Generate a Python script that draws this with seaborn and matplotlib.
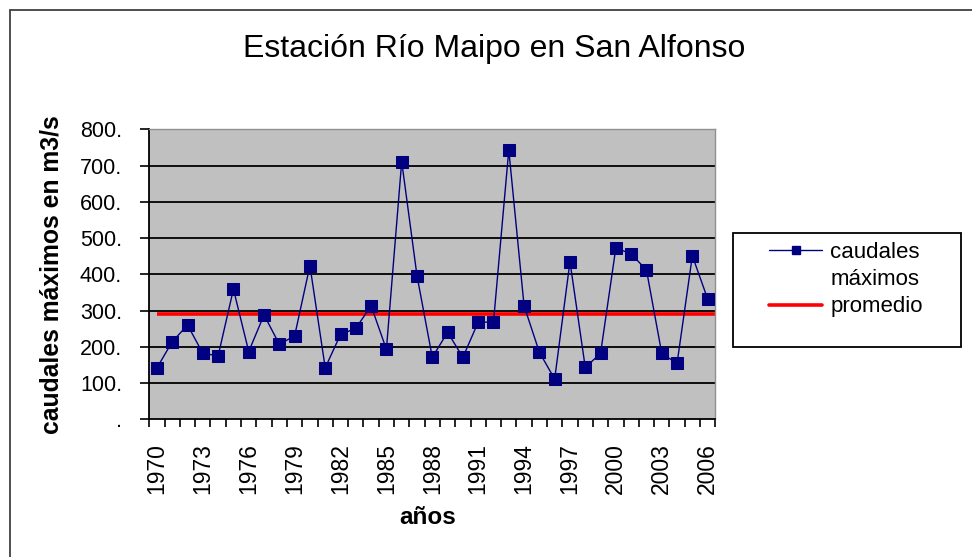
import numpy as np
import matplotlib
matplotlib.use("Agg")
import matplotlib.pyplot as plt
from matplotlib.lines import Line2D
from matplotlib.patches import Rectangle
from matplotlib.ticker import FixedLocator, FuncFormatter
import seaborn as sns

# Caudales máximos anuales, Río Maipo en San Alfonso (m3/s)
years = list(range(1970, 2007))
caudales = [142, 214, 260, 182, 175, 359, 187, 288, 207, 230,
            424, 142, 234, 251, 313, 193, 711, 396, 171, 240,
            171, 268, 268, 743, 313, 185, 111, 435, 143, 182,
            473, 456, 412, 182, 154, 451, 332]
promedio = 290
label_years = years[::3]

sns.set_theme(style="white")
plt.rcParams['font.family'] = ['Liberation Sans', 'DejaVu Sans']
plt.rcParams['text.color'] = 'black'
plt.rcParams['axes.labelcolor'] = 'black'
plt.rcParams['xtick.color'] = 'black'
plt.rcParams['ytick.color'] = 'black'

fig = plt.figure(figsize=(9.72, 5.57), dpi=100)
ax = fig.add_axes([0.1536, 0.2472, 0.5823, 0.5207])
ax.set_facecolor('#C0C0C0')

# horizontal grid lines in black, as in Excel
for v in range(100, 800, 100):
    ax.axhline(v, color='black', lw=1.3, zorder=1)

sns.lineplot(x=years, y=caudales, ax=ax, color='#000080', lw=1.0,
             marker='s', markersize=8.5, markeredgecolor='#000080', zorder=3)
ax.hlines(promedio, years[0], years[-1] + 0.5, color='#FF0000', lw=2.6, zorder=2)

ax.set_xlim(years[0] - 0.5, years[-1] + 0.5)
ax.set_ylim(0, 800)

ax.yaxis.set_major_locator(FixedLocator(range(0, 900, 100)))
ax.yaxis.set_major_formatter(FuncFormatter(lambda v, p: '.' if v == 0 else f'{int(v)}.'))
ax.tick_params(axis='y', which='major', direction='out', length=6.5, width=1.2,
               color='black', labelsize=15.5, pad=13, left=True)

ax.xaxis.set_minor_locator(FixedLocator(np.arange(years[0] - 0.5, years[-1] + 1, 1)))
ax.set_xticks(label_years)
ax.set_xticklabels([str(y) for y in label_years], rotation=90)
ax.tick_params(axis='x', which='major', length=0, labelsize=16.5, pad=17, bottom=True)
ax.tick_params(axis='x', which='minor', direction='out', length=6, width=1.2,
               color='black', bottom=True)

for side in ['left', 'bottom']:
    ax.spines[side].set_color('black')
    ax.spines[side].set_linewidth(1.3)
for side in ['top', 'right']:
    ax.spines[side].set_color('#909090')
    ax.spines[side].set_linewidth(1.0)

ax.set_ylabel('caudales máximos en m3/s', fontsize=17.8, fontweight='bold')
ax.set_xlabel('años', fontsize=17.5, fontweight='bold')
ax.yaxis.set_label_coords(-0.152, 0.5)
ax.xaxis.set_label_coords(0.492, -0.30)

fig.text(494 / 972, 1 - 49 / 557, 'Estación Río Maipo en San Alfonso',
         ha='center', va='center', fontsize=23)

# legend with its own box
handles = [Line2D([], [], color='#000080', lw=1.0, marker='s', markersize=6),
           Line2D([], [], color='none'),
           Line2D([], [], color='#FF0000', lw=2.6)]
fig.legend(handles, ['caudales', 'máximos', 'promedio'], loc='upper left',
           bbox_to_anchor=(769 / 972, 1 - 242 / 557), frameon=False,
           fontsize=16, handlelength=2.4, handletextpad=0.36,
           labelspacing=0.28, borderpad=0, borderaxespad=0)
fig.patches.append(Rectangle((733 / 972, 1 - 347 / 557), 228 / 972, 114.5 / 557,
                             transform=fig.transFigure, facecolor='white',
                             edgecolor='black', lw=1.3, zorder=-1))

# outer chart-area border (cut at right and bottom)
fig.patches.append(Rectangle((10 / 972, -0.05), 1.1, 1.05 - 10 / 557,
                             transform=fig.transFigure, facecolor='none',
                             edgecolor='#404040', lw=1.3, zorder=-2))

fig.savefig('out.png', dpi=100)
